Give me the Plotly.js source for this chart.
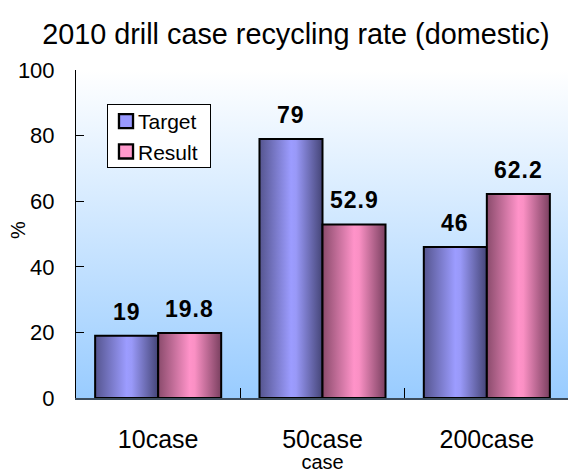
<!DOCTYPE html>
<html>
<head>
<meta charset="utf-8">
<script src="https://cdn.plot.ly/plotly-3.0.1.min.js"></script>
<style>
html,body{margin:0;padding:0;overflow:hidden;background:#fff;}
#chart{width:570px;height:473px;}
</style>
</head>
<body>
<div id="chart"></div>
<script>
const categories = ['10case', '50case', '200case'];
const targetValues = [19, 79, 46];
const resultValues = [19.8, 52.9, 62.2];
const yTickValues = [0, 20, 40, 60, 80, 100];
const seriesNames = ['Target', 'Result'];

const W = 570, H = 473;
const M = {l: 76, r: 1, t: 70, b: 75};
const BARGAP = 0.233;
const FONT = 'Liberation Sans, Arial, sans-serif';

const traces = [
  {type: 'bar', name: seriesNames[0], x: categories, y: targetValues,
   marker: {color: '#9999ff', line: {color: '#000', width: 2}}, hoverinfo: 'none'},
  {type: 'bar', name: seriesNames[1], x: categories, y: resultValues,
   marker: {color: '#ff99cc', line: {color: '#000', width: 2}}, hoverinfo: 'none'}
];

// label offsets derived from bar geometry
const plotW = W - M.l - M.r;
const plotH = H - M.t - M.b;
const halfBar = plotW / categories.length * (1 - BARGAP) / 4;
const annotations = [];
[targetValues, resultValues].forEach((vals, s) => {
  vals.forEach((v, i) => {
    annotations.push({
      x: categories[i], y: v, xref: 'x', yref: 'y',
      text: String(v), showarrow: false,
      xshift: (s === 0 ? -1 : 1) * halfBar, yshift: 9, yanchor: 'bottom',
      font: {family: FONT, size: 23, color: '#000', weight: 'bold'}
    });
  });
});
// y-axis title placed close to the axis as in the reference
annotations.push({
  text: '%', xref: 'paper', yref: 'paper', x: (18 - M.l) / plotW, y: (H - M.b - 230) / plotH,
  xanchor: 'center', yanchor: 'middle', textangle: -90, showarrow: false,
  font: {family: FONT, size: 20, color: '#000'}
});

const layout = {
  width: W, height: H,
  margin: M,
  paper_bgcolor: '#fff',
  plot_bgcolor: '#cfe5fd',
  barmode: 'group', bargap: BARGAP, bargroupgap: 0,
  showlegend: true,
  title: {text: '2010 drill case recycling rate (domestic)', xref: 'container', x: 0.519, xanchor: 'center',
          yref: 'container', y: 1 - 34 / H, yanchor: 'middle',
          font: {family: FONT, size: 28.8, color: '#000'}},
  xaxis: {type: 'category', showline: true, linecolor: '#3c4c5c', linewidth: 2,
          ticks: 'inside', tickson: 'boundaries', ticklen: 10, tickcolor: '#000', tickwidth: 1,
          tickfont: {family: FONT, size: 25, color: '#000'}, ticklabelstandoff: 18,
          showgrid: false, zeroline: false,
          title: {text: 'case', font: {family: FONT, size: 20, color: '#000'}, standoff: 5}},
  yaxis: {range: [0, 100], tickvals: yTickValues, showline: true, linecolor: '#000', linewidth: 1,
          ticks: 'inside', ticklen: 8, tickcolor: '#000', tickwidth: 1,
          tickfont: {family: FONT, size: 22, color: '#000'}, ticklabelstandoff: 16,
          showgrid: false, zeroline: false},
  legend: {x: (107 - M.l) / plotW, y: (H - M.b - 100) / plotH, xanchor: 'left', yanchor: 'top', bgcolor: '#fff',
           bordercolor: '#000', borderwidth: 1,
           font: {family: FONT, size: 21, color: '#000'}},
  annotations: annotations
};

Plotly.newPlot('chart', traces, layout, {staticPlot: true, displayModeBar: false}).then(gd => {
  const NS = 'http://www.w3.org/2000/svg';
  const defs = document.querySelector('.main-svg defs');
  function grad(id, stops, vertical) {
    const g = document.createElementNS(NS, 'linearGradient');
    g.setAttribute('id', id);
    g.setAttribute('x1', '0'); g.setAttribute('y1', '0');
    g.setAttribute('x2', vertical ? '0' : '1'); g.setAttribute('y2', vertical ? '1' : '0');
    stops.forEach(([o, c]) => {
      const s = document.createElementNS(NS, 'stop');
      s.setAttribute('offset', o); s.setAttribute('stop-color', c);
      g.appendChild(s);
    });
    defs.appendChild(g);
  }
  grad('gT', [[0, '#55558f'], [0.5, '#9c9cff'], [0.58, '#9999f8'], [1, '#454577']]);
  grad('gR', [[0, '#8a4b6c'], [0.5, '#ff93c9'], [0.58, '#fa90c4'], [1, '#7a4060']]);
  grad('gBg', [[0, '#ffffff'], [1, '#99ccff']], true);
  const bg = document.querySelector('.bglayer .bg');
  if (bg) bg.style.fill = 'url(#gBg)';
  const tr = document.querySelectorAll('.barlayer .trace');
  ['gT', 'gR'].forEach((id, k) => {
    if (tr[k]) tr[k].querySelectorAll('path').forEach(p => { p.style.fill = 'url(#' + id + ')'; });
  });
  // data-label letter spacing
  document.querySelectorAll('.annotation-text').forEach(t => {
    if (t.textContent !== '%') t.style.letterSpacing = '1px';
  });
  // legend: tighter box and text closer to symbol, larger symbols
  const lg = document.querySelector('.legend');
  if (lg) {
    const r = lg.querySelector('rect.bg');
    if (r) {
      r.setAttribute('y', (+r.getAttribute('y') || 0) + 4);
      r.setAttribute('height', +r.getAttribute('height') - 9);
      r.setAttribute('width', +r.getAttribute('width') - 3);
    }
    lg.querySelectorAll('.legendtext').forEach(t => t.setAttribute('x', +t.getAttribute('x') - 10));
    lg.querySelectorAll('.legendpoints path').forEach(p => {
      const tf = p.getAttribute('transform') || '';
      p.setAttribute('transform', tf + ' translate(-2,0) scale(1.17)');
    });
  }
});
</script>
</body>
</html>
